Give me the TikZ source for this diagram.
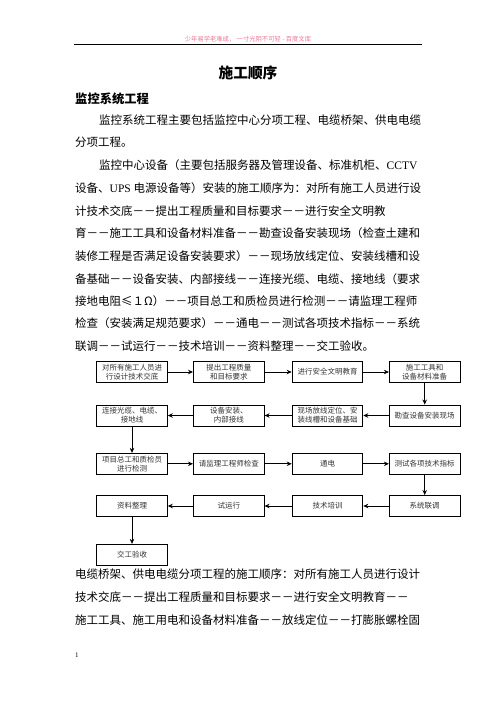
\documentclass[tikz,border=0pt]{standalone}
\usepackage{fontspec}
\setmainfont{Noto Sans CJK SC}
\newfontfamily\latf{Liberation Serif}
\usetikzlibrary{arrows.meta}
\XeTeXlinebreaklocale "zh"
\XeTeXlinebreakskip=0pt plus 1pt
\definecolor{hdrpink}{RGB}{236,120,150}
\tikzset{
  box/.style={draw, line width=0.9pt, minimum width=70.7pt, minimum height=21pt, inner sep=1pt, align=center, font=\fontsize{7.5}{9}\selectfont, text=black!80},
  arr/.style={-{Stealth[length=5pt,width=4.5pt]}, line width=0.9pt},
  body/.style={anchor=west, inner sep=0pt, font=\fontsize{11.5}{12}\selectfont},
}
\newcommand{\fl}[2]{\makebox[#1pt][s]{#2}}
\begin{document}
\begin{tikzpicture}[x=1pt,y=-1pt]
\useasboundingbox (0,0) rectangle (496,702);
% header
\node[inner sep=0pt, text=hdrpink, font=\fontsize{6.3}{7}\selectfont] (hdr) at (248,39) {少年易学老难成，\ 一寸光阴不可轻 - 百度文库};
\coordinate (hl) at (74,44);
\coordinate (hr) at (422,44);
\draw[line width=0.8pt] (hl) -- (hr);
% titles
\node[inner sep=0pt, font=\fontsize{14.7}{16}\selectfont\bfseries] (title) at (248,73) {施工顺序};
\node[body, font=\fontsize{12.3}{14}\selectfont\bfseries] (sec) at (75,99) {监控系统工程};
% paragraph lines
\node[body] (p1) at (99,120) {\fl{322}{监控系统工程主要包括监控中心分项工程、电缆桥架、供电电缆}};
\node[body] (p2) at (75,142.7) {分项工程。};
\node[body] (p3) at (99,165) {\fl{322}{监控中心设备（主要包括服务器及管理设备、标准机柜、{\latf CCTV}}};
\node[body] (p4) at (75,188) {\fl{346}{设备、{\latf UPS} 电源设备等）安装的施工顺序为：对所有施工人员进行设}};
\node[body] (p5) at (75,210.7) {计技术交底－－提出工程质量和目标要求－－进行安全文明教};
\node[body] (p6) at (75,233.3) {\fl{346}{育－－施工工具和设备材料准备－－勘查设备安装现场（检查土建和}};
\node[body] (p7) at (75,256) {\fl{346}{装修工程是否满足设备安装要求）－－现场放线定位、安装线槽和设}};
\node[body] (p8) at (75,279) {\fl{346}{备基础－－设备安装、内部接线－－连接光缆、电缆、接地线（要求}};
\node[body] (p9) at (75,301) {\fl{346}{接地电阻≤１Ω）－－项目总工和质检员进行检测－－请监理工程师}};
\node[body] (p10) at (75,323.5) {\fl{346}{检查（安装满足规范要求）－－通电－－测试各项技术指标－－系统}};
\node[body] (p11) at (75,346) {联调－－试运行－－技术培训－－资料整理－－交工验收。};
% flowchart
\node[box] (a1) at (132,372) {对所有施工人员进\\行设计技术交底};
\node[box] (a2) at (228.8,372) {提出工程质量\\和目标要求};
\node[box] (a3) at (327.5,372) {进行安全文明教育};
\node[box] (a4) at (424.7,372) {施工工具和\\设备材料准备};
\node[box] (b1) at (132,415.5) {连接光缆、电缆、\\接地线};
\node[box] (b2) at (228.8,415.5) {设备安装、\\内部接线};
\node[box] (b3) at (327.5,415.5) {现场放线定位、安\\装线槽和设备基础};
\node[box] (b4) at (424.7,415.5) {勘查设备安装现场};
\node[box] (c1) at (132,463.8) {项目总工和质检员\\进行检测};
\node[box] (c2) at (228.8,463.8) {请监理工程师检查};
\node[box] (c3) at (327.5,463.8) {通电};
\node[box] (c4) at (424.7,463.8) {测试各项技术指标};
\node[box] (d1) at (132,506) {资料整理};
\node[box] (d2) at (228.8,506) {试运行};
\node[box] (d3) at (327.5,506) {技术培训};
\node[box] (d4) at (424.7,506) {系统联调};
\node[box] (e1) at (132,554.8) {交工验收};
\draw[arr] (a1) -- (a2);
\draw[arr] (a2) -- (a3);
\draw[arr] (a3) -- (a4);
\draw[arr] (a4) -- (b4);
\draw[arr] (b4) -- (b3);
\draw[arr] (b3) -- (b2);
\draw[arr] (b2) -- (b1);
\draw[arr] (b1) -- (c1);
\draw[arr] (c1) -- (c2);
\draw[arr] (c2) -- (c3);
\draw[arr] (c3) -- (c4);
\draw[arr] (c4) -- (d4);
\draw[arr] (d4) -- (d3);
\draw[arr] (d3) -- (d2);
\draw[arr] (d2) -- (d1);
\draw[arr] (d1) -- (e1);
% bottom text
\node[body] (q1) at (75,574) {\fl{346}{电缆桥架、供电电缆分项工程的施工顺序：对所有施工人员进行设计}};
\node[body] (q2) at (75,596.7) {技术交底－－提出工程质量和目标要求－－进行安全文明教育－－};
\node[body] (q3) at (75,620) {\fl{346}{施工工具、施工用电和设备材料准备－－放线定位－－打膨胀螺栓固}};
\node[anchor=west, inner sep=0pt, font=\latf\fontsize{7}{8}\selectfont] (pg) at (75,655) {1};
\end{tikzpicture}
\end{document}
